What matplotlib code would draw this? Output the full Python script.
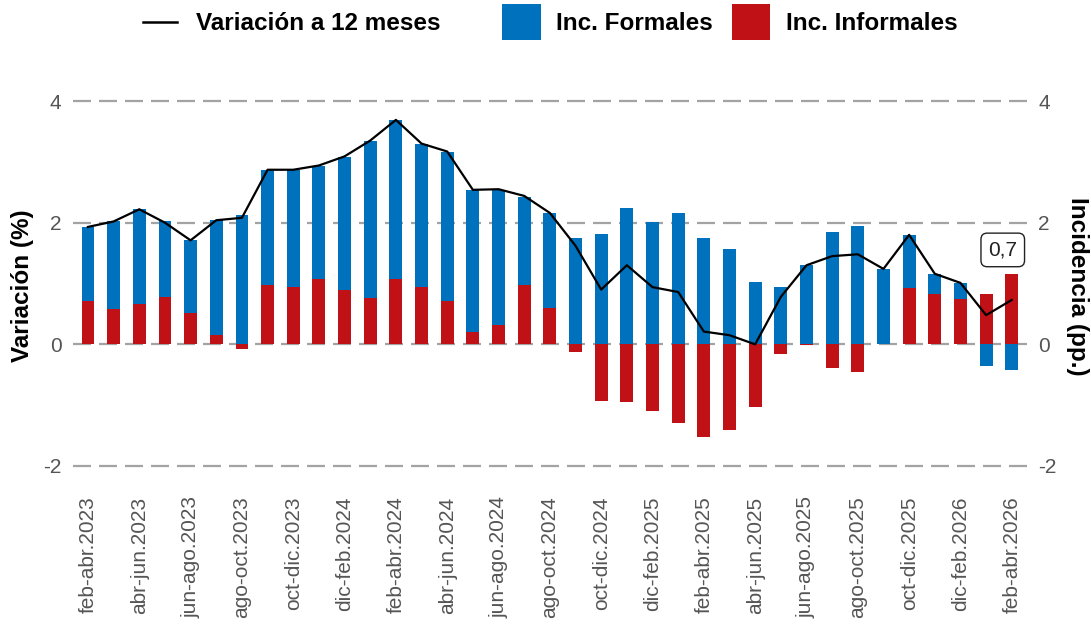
import matplotlib
matplotlib.use("Agg")
import matplotlib.pyplot as plt
import numpy as np
from matplotlib.lines import Line2D
from matplotlib.patches import Rectangle

periods = [
    "feb-abr.2023", "mar-may.2023", "abr-jun.2023", "may-jul.2023", "jun-ago.2023",
    "jul-sep.2023", "ago-oct.2023", "sep-nov.2023", "oct-dic.2023", "nov-ene.2024",
    "dic-feb.2024", "ene-mar.2024", "feb-abr.2024", "mar-may.2024", "abr-jun.2024",
    "may-jul.2024", "jun-ago.2024", "jul-sep.2024", "ago-oct.2024", "sep-nov.2024",
    "oct-dic.2024", "nov-ene.2025", "dic-feb.2025", "ene-mar.2025", "feb-abr.2025",
    "mar-may.2025", "abr-jun.2025", "may-jul.2025", "jun-ago.2025", "jul-sep.2025",
    "ago-oct.2025", "sep-nov.2025", "oct-dic.2025", "nov-ene.2026", "dic-feb.2026",
    "ene-mar.2026", "feb-abr.2026",
]

formales = [
    1.22, 1.44, 1.56, 1.25, 1.20, 1.89, 2.13, 1.90, 1.92, 1.85,
    2.18, 2.59, 2.60, 2.35, 2.45, 2.32, 2.21, 1.46, 1.56, 1.74,
    1.82, 2.24, 2.01, 2.16, 1.74, 1.56, 1.03, 0.94, 1.30, 1.84,
    1.95, 1.24, 0.86, 0.33, 0.27, -0.36, -0.42,
]

informales = [
    0.71, 0.58, 0.67, 0.77, 0.52, 0.15, -0.07, 0.97, 0.95, 1.08,
    0.90, 0.76, 1.08, 0.94, 0.71, 0.21, 0.32, 0.97, 0.60, -0.13,
    -0.93, -0.95, -1.09, -1.30, -1.53, -1.41, -1.03, -0.16, -0.01, -0.39,
    -0.46, 0.00, 0.93, 0.83, 0.74, 0.83, 1.15,
]

variacion = [
    1.93, 2.02, 2.22, 2.00, 1.71, 2.04, 2.08, 2.87, 2.87, 2.94,
    3.09, 3.35, 3.69, 3.30, 3.17, 2.54, 2.55, 2.44, 2.16, 1.62,
    0.90, 1.30, 0.94, 0.86, 0.21, 0.15, 0.00, 0.78, 1.30, 1.45,
    1.48, 1.24, 1.80, 1.16, 1.01, 0.48, 0.73,
]

yticks = [-2, 0, 2, 4]
last_label = "0,7"
legend_labels = ["Variación a 12 meses", "Inc. Formales", "Inc. Informales"]

blue = "#0071BC"
red = "#C01216"
grid_c = "#A3A3A3"
tick_c = "#555555"

plt.rcParams['font.family'] = ['Liberation Sans', 'DejaVu Sans']

W, H = 1091, 625
fig = plt.figure(figsize=(W / 100, H / 100), dpi=100)
ax = fig.add_axes([0.0665, 0.2301, 0.875, 0.6326])

x = np.arange(len(periods))
f = np.array(formales)
i = np.array(informales)

i_pos = np.clip(i, 0, None)
i_neg = np.clip(i, None, 0)
f_pos = np.clip(f, 0, None)
f_neg = np.clip(f, None, 0)

w = 0.5
ax.bar(x, i_pos, width=w, color=red, zorder=2)
ax.bar(x, f_pos, width=w, bottom=i_pos, color=blue, zorder=2)
ax.bar(x, i_neg, width=w, color=red, zorder=2)
ax.bar(x, f_neg, width=w, bottom=i_neg, color=blue, zorder=2)

ax.plot(x, variacion, color="black", lw=1.6, zorder=3)

for yv in yticks:
    ax.axhline(yv, color=grid_c, lw=1.6, ls=(0, (8.1, 3.6)), zorder=1)

ax.set_xlim(-0.6, len(periods) - 0.4)
ax.set_ylim(-2.25, 4.25)
ax.set_yticks(yticks)
ax.set_yticklabels([str(t) for t in yticks])
ax.set_xticks(x[::2])
ax.set_xticklabels(periods[::2], rotation=90, color=tick_c, fontsize=15)
ax.tick_params(axis='x', length=0, pad=11)
ax.tick_params(axis='y', length=0, labelcolor=tick_c, labelsize=15, pad=8)
for s in ax.spines.values():
    s.set_visible(False)

ax2 = ax.twinx()
ax2.set_ylim(ax.get_ylim())
ax2.set_yticks(yticks)
ax2.set_yticklabels([str(t) for t in yticks])
ax2.tick_params(axis='y', length=0, labelcolor=tick_c, labelsize=15, pad=8)
for s in ax2.spines.values():
    s.set_visible(False)

fig.text(23 / W, 1 - 286 / H, "Variación (%)", rotation=90, ha='center', va='center',
         fontsize=17.5, fontweight='bold')
fig.text(1077 / W, 1 - 286 / H, "Incidencia (pp.)", rotation=270, ha='center', va='center',
         fontsize=17.5, fontweight='bold')

ax.annotate(last_label, xy=(x[-1], variacion[-1]), xytext=(-6.5, 36), textcoords='offset points',
            ha='center', va='center', fontsize=15, color="#222222", zorder=5,
            bbox=dict(boxstyle="round,pad=0.35,rounding_size=0.3", fc="white", ec="#222222", lw=1))

# manual legend (pixel layout)
def fx(px):
    return px / W

def fy(py):
    return 1 - py / H

ly = 22
ty = 24
fig.add_artist(Line2D([fx(143), fx(177)], [fy(ly), fy(ly)], color='black', lw=1.8,
                      transform=fig.transFigure))
fig.text(fx(196), fy(ty), legend_labels[0], ha='left', va='center', fontsize=17.5, fontweight='bold')
fig.add_artist(Rectangle((fx(502), fy(40)), fx(39), 36 / H, facecolor=blue, edgecolor='none',
                         transform=fig.transFigure))
fig.text(fx(556), fy(ty), legend_labels[1], ha='left', va='center', fontsize=17.5, fontweight='bold')
fig.add_artist(Rectangle((fx(732), fy(40)), fx(38), 36 / H, facecolor=red, edgecolor='none',
                         transform=fig.transFigure))
fig.text(fx(786), fy(ty), legend_labels[2], ha='left', va='center', fontsize=17.5, fontweight='bold')

fig.savefig("out.png", dpi=100)
